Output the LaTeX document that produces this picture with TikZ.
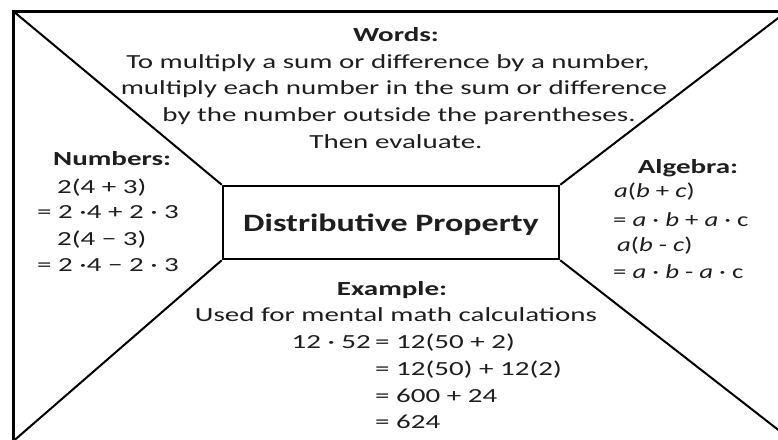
\documentclass[tikz,border=0pt]{standalone}
\usepackage{fontspec}
\setmainfont{Carlito}[FakeStretch=1.45]
\newfontfamily\boxfont{Carlito}[FakeStretch=1.36]
\newfontfamily\algfont{Carlito}[FakeStretch=1.34]
\definecolor{ink}{HTML}{1E1E1E}
\begin{document}
\begin{tikzpicture}[x=1pt,y=-1pt,
  txt/.style={inner sep=0pt, text=ink, font=\fontsize{20}{24}\selectfont},
  ttl/.style={inner sep=0pt, text=ink, font=\fontsize{20}{24}\selectfont\bfseries},
  alg/.style={inner sep=0pt, text=ink, font=\algfont\fontsize{20}{24}\selectfont},
  frame/.style={line width=3pt, line cap=rect},
  diag/.style={line width=2pt}]
\useasboundingbox (0,0) rectangle (778,439);
\clip (0,0) rectangle (778,439);
\fill[white] (0,0) rectangle (778,439);

% frame
\coordinate (tl) at (13,11);
\coordinate (tr) at (795,11);
\coordinate (bl) at (13,450);
\draw[frame] (bl) -- (tl) -- (tr);

% centre box
\node[draw, line width=2.5pt, minimum width=336pt, minimum height=73pt, inner sep=0pt,
      text height=17pt, text depth=0pt, text=ink,
      font=\boxfont\fontsize{25}{30}\selectfont\bfseries] (center) at (391,222.5) {Distributive Property};

\coordinate (rt) at (790,9);
\coordinate (lb) at (10,444);
\coordinate (rb) at (790,439);
\draw[diag] (tl) -- (center.north west);
\draw[diag] (center.north east) -- (rt);
\draw[diag] (center.south west) -- (lb);
\draw[diag] (center.south east) -- (rb);

% Words
\node[ttl, anchor=base] (wt) at (396,41) {Words:};
\node[txt, anchor=base] (w1) at (388,68) {To multiply a sum or difference by a number,};
\node[txt, anchor=base] (w2) at (394,94.5) {multiply each number in the sum or difference};
\node[txt, anchor=base] (w3) at (399,121) {by the number outside the parentheses.};
\node[txt, anchor=base] (w4) at (396,148) {Then evaluate.};

% Numbers
\node[ttl, anchor=base west] (nt) at (53,165) {Numbers:};
\node[txt, anchor=base west] (n1) at (57,193) {2(4 + 3)};
\node[txt, anchor=base west] (n2) at (37,218.5) {= 2 ·4 + 2 · 3};
\node[txt, anchor=base west] (n3) at (57,245) {2(4 − 3)};
\node[txt, anchor=base west] (n4) at (37,271.5) {= 2 ·4 − 2 · 3};

% Algebra
\node[ttl, anchor=base] (at) at (688,173) {Algebra:};
\node[alg, anchor=base west] (a1) at (614,197) {\textit{a}(\textit{b} + \textit{c})};
\node[alg, anchor=base west] (a2) at (613,226) {= \textit{a} · \textit{b} + \textit{a} · c};
\node[alg, anchor=base west] (a3) at (617,251.5) {\textit{a}(\textit{b} - \textit{c})};
\node[alg, anchor=base west] (a4) at (613,278) {= \textit{a} · \textit{b} - \textit{a} · c};

% Example
\node[ttl, anchor=base] (et) at (392,295) {Example:};
\node[txt, anchor=base] (e1) at (396,321) {Used for mental math calculations};
\node[txt, anchor=base east] (e2a) at (371,348) {12 · 52};
\node[txt, anchor=base west] (e2) at (375,348) {= 12(50 + 2)};
\node[txt, anchor=base west] (e3) at (375,375) {= 12(50) + 12(2)};
\node[txt, anchor=base west] (e4) at (375,402) {= 600 + 24};
\node[txt, anchor=base west] (e5) at (375,428) {= 624};
\end{tikzpicture}
\end{document}
